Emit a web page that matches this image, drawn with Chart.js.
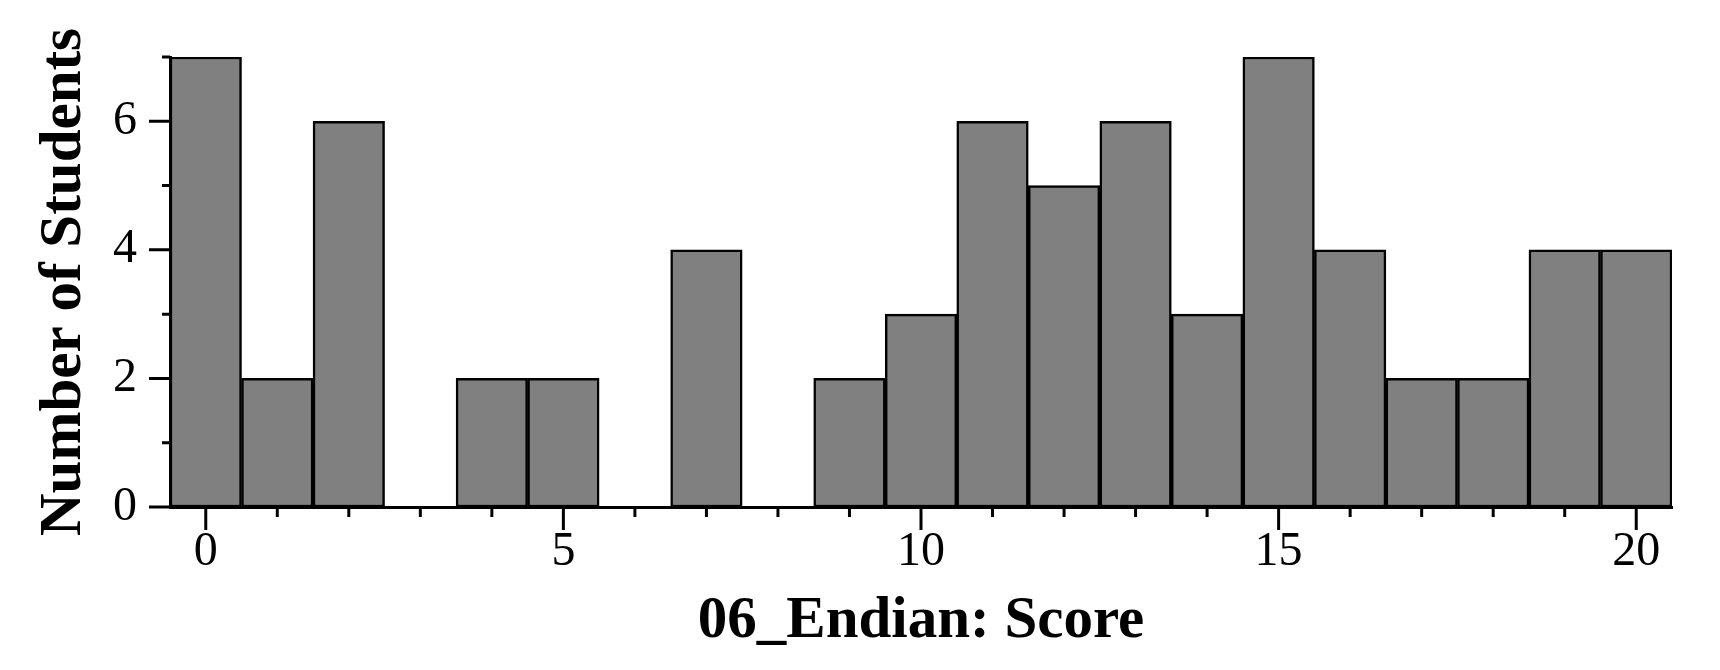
<!DOCTYPE html>
<html>
<head>
<meta charset="utf-8">
<script src="https://cdn.jsdelivr.net/npm/chart.js@4/dist/chart.umd.min.js"></script>
<style>
  html, body { margin: 0; padding: 0; background: #ffffff; }
  #wrap { width: 1720px; height: 670px; }
</style>
</head>
<body>
<div id="wrap"><canvas id="c" width="1720" height="670"></canvas></div>
<script>
// ---- data ----
const scores = [0,1,2,3,4,5,6,7,8,9,10,11,12,13,14,15,16,17,18,19,20];
const students = [7,2,6,0,2,2,0,4,0,2,3,6,5,6,3,7,4,2,2,4,4];
const xLabelEvery = 5;
const yLabelValues = [0,2,4,6];
const xTitle = '06_Endian: Score';
const yTitle = 'Number of Students';

const FONT = '"Liberation Serif", "Times New Roman", serif';

// draws major/minor tick marks using the library's scales
const tickPlugin = {
  id: 'ticks',
  afterDraw(chart) {
    const ctx = chart.ctx;
    const xs = chart.scales.x, ys = chart.scales.y;
    ctx.save();
    ctx.strokeStyle = '#000';
    ctx.lineWidth = 3;
    ctx.lineCap = 'butt';
    ctx.beginPath();
    for (let i = 0; i < xs.ticks.length; i++) {
      const px = xs.getPixelForTick(i);
      const major = (scores[i] % xLabelEvery) === 0;
      const len = major ? 23 : 10;
      ctx.moveTo(px, xs.top);
      ctx.lineTo(px, xs.top + len);
    }
    for (let i = 0; i < ys.ticks.length; i++) {
      const v = ys.ticks[i].value;
      const py = ys.getPixelForValue(v);
      const major = yLabelValues.includes(v);
      const len = major ? 21 : 8;
      ctx.moveTo(ys.right, py);
      ctx.lineTo(ys.right - len, py);
    }
    ctx.stroke();
    ctx.restore();
  }
};

new Chart(document.getElementById('c'), {
  type: 'bar',
  data: {
    labels: scores.map(String),
    datasets: [{
      data: students,
      backgroundColor: '#808080',
      borderColor: '#000000',
      borderWidth: 2.5,
      borderSkipped: false,
      barPercentage: 1.0,
      categoryPercentage: 1.0
    }]
  },
  options: {
    responsive: false,
    animation: false,
    devicePixelRatio: 1,
    layout: { padding: { left: 0, right: 48, top: 57, bottom: 0 } },
    plugins: { legend: { display: false }, tooltip: { enabled: false } },
    scales: {
      x: {
        type: 'category',
        offset: true,
        grid: { display: false, drawTicks: false },
        border: { display: true, color: '#000', width: 3 },
        ticks: {
          autoSkip: false,
          maxRotation: 0,
          padding: 17,
          color: '#000',
          font: { family: FONT, size: 48 },
          callback: (v, i) => (scores[i] % xLabelEvery === 0 ? String(scores[i]) : '')
        },
        title: {
          display: true,
          text: xTitle,
          color: '#000',
          font: { family: FONT, size: 59, weight: 'bold' },
          padding: { top: 0, bottom: 13 }
        },
        afterFit: (s) => { s.height = 163; }
      },
      y: {
        type: 'linear',
        min: 0,
        max: 7,
        grid: { display: false, drawTicks: false },
        border: { display: true, color: '#000', width: 3 },
        ticks: {
          stepSize: 1,
          autoSkip: false,
          padding: 33,
          color: '#000',
          font: { family: FONT, size: 48 },
          callback: (v) => (yLabelValues.includes(v) ? String(v) : '')
        },
        title: {
          display: true,
          text: yTitle,
          color: '#000',
          font: { family: FONT, size: 59, weight: 'bold' },
          padding: { top: 29, bottom: 0 }
        },
        afterFit: (s) => { s.width = 170; s.paddingTop = 0; s.paddingBottom = 0; }
      }
    }
  },
  plugins: [tickPlugin]
});
</script>
</body>
</html>
